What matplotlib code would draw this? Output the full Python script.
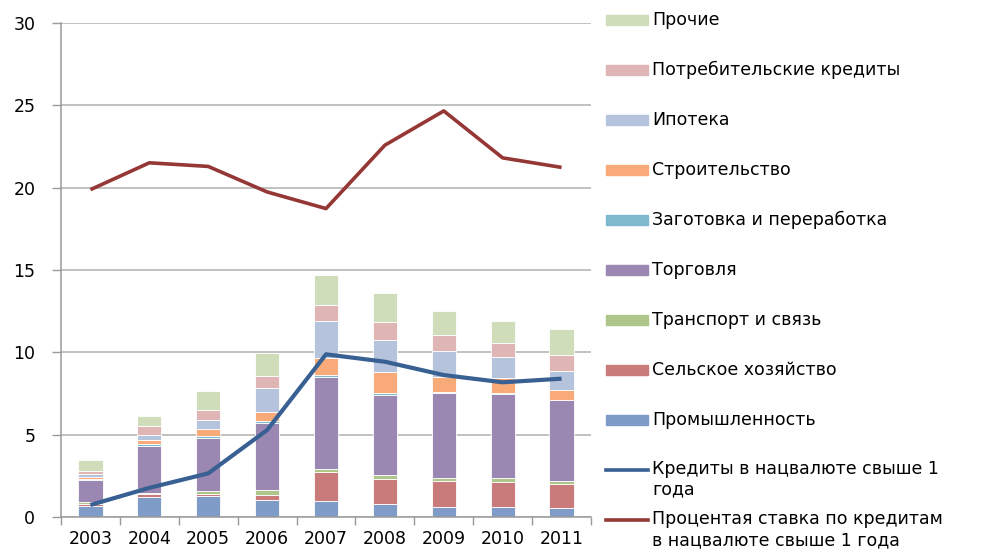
import matplotlib
matplotlib.use("Agg")
import matplotlib.pyplot as plt
import numpy as np
from matplotlib.patches import Rectangle
from matplotlib.lines import Line2D

plt.rcParams['font.family'] = ['DejaVu Sans']

years = ["2003", "2004", "2005", "2006", "2007", "2008", "2009", "2010", "2011"]

series_names = ["Промышленность", "Сельское хозяйство", "Транспорт и связь", "Торговля",
                "Заготовка и переработка", "Строительство", "Ипотека",
                "Потребительские кредиты", "Прочие"]

industry     = [0.69, 1.23, 1.30, 1.05, 0.97, 0.77, 0.63, 0.63, 0.57]
agriculture  = [0.12, 0.15, 0.12, 0.31, 1.76, 1.56, 1.58, 1.52, 1.45]
transport    = [0.10, 0.10, 0.16, 0.28, 0.18, 0.20, 0.14, 0.20, 0.19]
trade        = [1.36, 2.85, 3.24, 4.09, 5.61, 4.90, 5.20, 5.14, 4.88]
processing   = [0.06, 0.10, 0.10, 0.10, 0.10, 0.08, 0.04, 0.04, 0.03]
construction = [0.12, 0.26, 0.40, 0.57, 1.01, 1.28, 0.93, 0.89, 0.61]
mortgage     = [0.14, 0.31, 0.55, 1.41, 2.29, 1.96, 1.58, 1.28, 1.13]
consumer     = [0.20, 0.54, 0.63, 0.77, 0.97, 1.11, 0.95, 0.85, 0.98]
other        = [0.67, 0.59, 1.13, 1.40, 1.78, 1.76, 1.46, 1.37, 1.57]

line_names = ["Кредиты в нацвалюте свыше 1\nгода",
              "Процентая ставка по кредитам\nв нацвалюте свыше 1 года"]
loans_long = [0.73, 1.77, 2.65, 5.28, 9.88, 9.43, 8.62, 8.18, 8.40]
rate_long  = [19.88, 21.51, 21.29, 19.74, 18.73, 22.58, 24.66, 21.81, 21.23]

y_ticks = [0, 5, 10, 15, 20, 25, 30]

stack = [industry, agriculture, transport, trade, processing, construction,
         mortgage, consumer, other]
colors = ["#7F9BC8", "#C87B7A", "#AFC68A", "#9B88B2", "#7DBACD",
          "#F8AA78", "#B5C3DC", "#E0B5B5", "#D0DDBA"]
line_colors = ["#386092", "#953735"]

W, H = 982, 549
fig = plt.figure(figsize=(W / 100, H / 100), dpi=100)
ax = fig.add_axes([61 / W, 1 - 517 / H, 530 / W, 494 / H])

x = np.arange(len(years))
bottom = np.zeros(len(years))
for vals, c in zip(stack, colors):
    v = np.array(vals)
    ax.bar(x, v, bottom=bottom, width=0.41, color=c, edgecolor="white",
           linewidth=0.6, zorder=2)
    bottom += v

ax.plot(x, loans_long, color=line_colors[0], lw=3.0, zorder=3,
        solid_capstyle="butt")
ax.plot(x, rate_long, color=line_colors[1], lw=2.6, zorder=3,
        solid_capstyle="butt")

ax.set_xlim(-0.5, len(years) - 0.5)
ax.set_ylim(0, 30)
ax.set_yticks(y_ticks)
ax.set_yticklabels([str(t) for t in y_ticks])
ax.set_xticks(x)
ax.set_xticklabels(years)
ax.set_xticks(np.arange(-0.5, len(years), 1.0), minor=True)
ax.tick_params(axis="x", which="major", length=0, pad=9, labelsize=12.5)
ax.tick_params(axis="x", which="minor", length=5.5, color="#9a9a9a", width=1)
ax.tick_params(axis="y", length=6.5, color="#9a9a9a", width=1, pad=12,
               labelsize=12.5)
ax.yaxis.grid(True, color="#b0b0b0", lw=1.1, zorder=0)
ax.set_axisbelow(True)
for s in ["top", "right"]:
    ax.spines[s].set_visible(False)
for s in ["left", "bottom"]:
    ax.spines[s].set_color("#9a9a9a")
    ax.spines[s].set_linewidth(1.1)

# Legend drawn manually on the right
entries = list(zip(series_names, colors))[::-1]
def fx(px):
    return px / W
def fy(py):
    return 1 - py / H

row = 0
for name, c in entries:
    yc = 20 + 50 * row
    fig.patches.append(Rectangle((fx(606), fy(yc + 5)), 42 / W, 10 / H,
                                 transform=fig.transFigure, color=c,
                                 figure=fig))
    fig.text(fx(652), fy(yc), name, fontsize=12.5, va="center", ha="left")
    row += 1
for name, c in zip(line_names, line_colors):
    yc = 20 + 50 * row
    fig.lines.append(Line2D([fx(606), fx(648)], [fy(yc), fy(yc)],
                            transform=fig.transFigure, color=c, lw=2.6,
                            figure=fig))
    fig.text(fx(652), fy(yc - 10), name, fontsize=12.5, va="top", ha="left",
             linespacing=1.2)
    row += 1

fig.savefig("out.png", dpi=100)
